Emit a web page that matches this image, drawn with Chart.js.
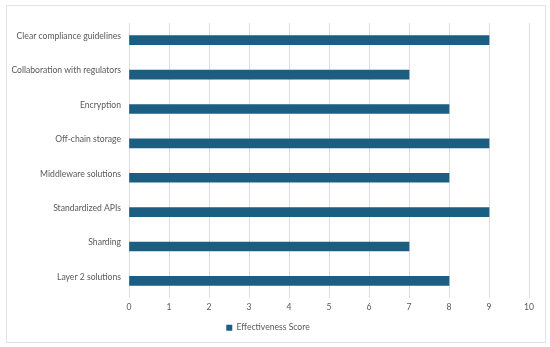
<!DOCTYPE html>
<html>
<head>
<meta charset="utf-8">
<script src="https://cdn.jsdelivr.net/npm/chart.js@4"></script>
<style>
    body { margin: 0; background: #fff; }
    #caja { position: absolute; left: 6px; top: 5px; width: 538px; height: 336px; border: 1px solid #e3e3e3; }
</style>
</head>
<body>
<div id="caja"><canvas id="grafico"></canvas></div>
<script>
// datos del grafico
var categorias = ['Clear compliance guidelines', 'Collaboration with regulators', 'Encryption', 'Off-chain storage',
    'Middleware solutions', 'Standardized APIs', 'Sharding', 'Layer 2 solutions'];
var puntuaciones = [9, 7, 8, 9, 8, 9, 7, 8];
var ticksX = [0, 1, 2, 3, 4, 5, 6, 7, 8, 9, 10];
var nombreSerie = 'Effectiveness Score';

Chart.defaults.font.family = 'Lato, sans-serif';
Chart.defaults.font.size = 8.6;
Chart.defaults.color = '#595959';

var ctx = document.getElementById('grafico').getContext('2d');
var miGrafico = new Chart(ctx, {
    type: 'bar',
    data: {
        labels: categorias,
        datasets: [{
            label: nombreSerie,
            data: puntuaciones,
            backgroundColor: '#1b5e82',
            barThickness: 9
        }]
    },
    options: {
        indexAxis: 'y',
        responsive: true,
        maintainAspectRatio: false,
        animation: false,
        layout: { padding: { top: 17, right: 16, left: 0, bottom: 0 } },
        plugins: {
            tooltip: { enabled: false },
            legend: {
                position: 'bottom',
                labels: { boxWidth: 6, boxHeight: 6, padding: 7, color: '#595959' }
            }
        },
        scales: {
            x: {
                min: 0,
                max: 10,
                afterBuildTicks: function (s) { s.ticks = ticksX.map(function (v) { return { value: v }; }); },
                grid: { color: '#dcdcdc', drawTicks: false },
                border: { display: false },
                ticks: { padding: 4 }
            },
            y: {
                grid: { display: false, drawTicks: false },
                border: { display: false },
                ticks: { labelOffset: -4, padding: 8 },
                afterFit: function (s) { s.width = 122; }
            }
        }
    }
});
</script>
</body>
</html>
